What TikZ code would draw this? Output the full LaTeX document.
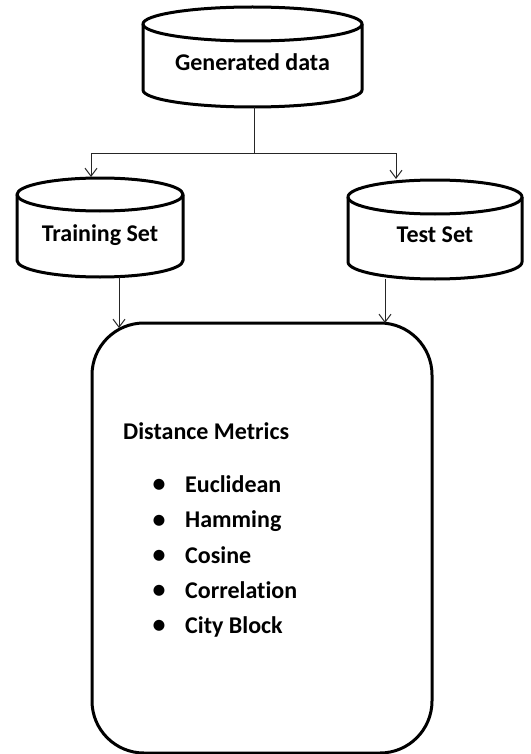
\documentclass[tikz,border=0pt]{standalone}
\usepackage{fontspec}
\setmainfont[Ligatures=NoCommon]{Carlito}
\usetikzlibrary{arrows.meta,calc}
\tikzset{
  cylline/.style={line width=3pt, draw=black, line join=round},
  conn/.style={line width=1pt, draw=black!85},
  arr/.style={conn, -{Straight Barb[length=8pt,width=12pt]}},
  cylbox/.style={inner sep=0pt, outer sep=0pt},
  lbl/.style={font=\fontsize{24}{28}\selectfont\bfseries, inner sep=0pt, anchor=base},
  itemtext/.style={lbl, anchor=base west},
  bul/.style={font=\fontsize{31}{34}\selectfont, inner sep=0pt, anchor=center},
  metricbox/.style={draw, line width=3pt, rounded corners=52pt, inner sep=0pt, outer sep=0pt}
}
\newcommand\drawcyl[3]{% name, rx, ry
  \draw[cylline] ($(#1.north west)+(0,#3)$) -- ($(#1.south west)+(0,-#3)$)
     arc[start angle=180, end angle=0, x radius=#2, y radius=#3]
     -- ($(#1.north east)+(0,#3)$);
  \draw[cylline] ($(#1.north)+(0,#3)$) ellipse[x radius=#2, y radius=#3];
}
\begin{document}
\begin{tikzpicture}[x=1pt,y=-1pt]
\useasboundingbox (0,0) rectangle (530,754);

% cylinders
\node[cylbox, minimum width=219pt, minimum height=100pt] (gen) at (252.5,57) {};
\node[cylbox, minimum width=166pt, minimum height=99pt] (train) at (100,227.5) {};
\node[cylbox, minimum width=174pt, minimum height=99pt] (test) at (435,229.5) {};
\drawcyl{gen}{109.5}{17}
\drawcyl{train}{83}{16.5}
\drawcyl{test}{87}{17}

\node[lbl] (gent) at (252.5,71) {Generated data};
\node[lbl] (traint) at (100,241.5) {Training Set};
\node[lbl] (testt) at (435,242) {Test Set};

% metrics box
\node[metricbox, minimum width=340pt, minimum height=430pt] (box) at (262,538) {};
\node[itemtext] (dm) at (123,439) {Distance Metrics};
\node[itemtext] (i1) at (185,492) {Euclidean};
\node[itemtext] (i2) at (185,527.5) {Hamming};
\node[itemtext] (i3) at (185,563) {Cosine};
\node[itemtext] (i4) at (185,598) {Correlation};
\node[itemtext] (i5) at (185,633) {City Block};
\node[bul] (b1) at (159,486.5) {\textbullet};
\node[bul] (b2) at (159,522) {\textbullet};
\node[bul] (b3) at (159,557.5) {\textbullet};
\node[bul] (b4) at (159,592.5) {\textbullet};
\node[bul] (b5) at (159,627.5) {\textbullet};

% connectors
\coordinate (split) at (254,154);
\draw[conn] (gen.south -| split) -- (split);
\draw[arr, shorten >=1pt] (split) -| ([xshift=-9pt]train.north);
\draw[arr, shorten >=1pt] (split) -| ([xshift=-39pt]test.north);
\draw[arr, shorten >=-5pt] ([xshift=19pt]train.south) -- ([xshift=19pt]train.south |- box.north);
\draw[arr] ([xshift=-50pt]test.south) -- ([xshift=-50pt]test.south |- box.north);
\end{tikzpicture}
\end{document}
